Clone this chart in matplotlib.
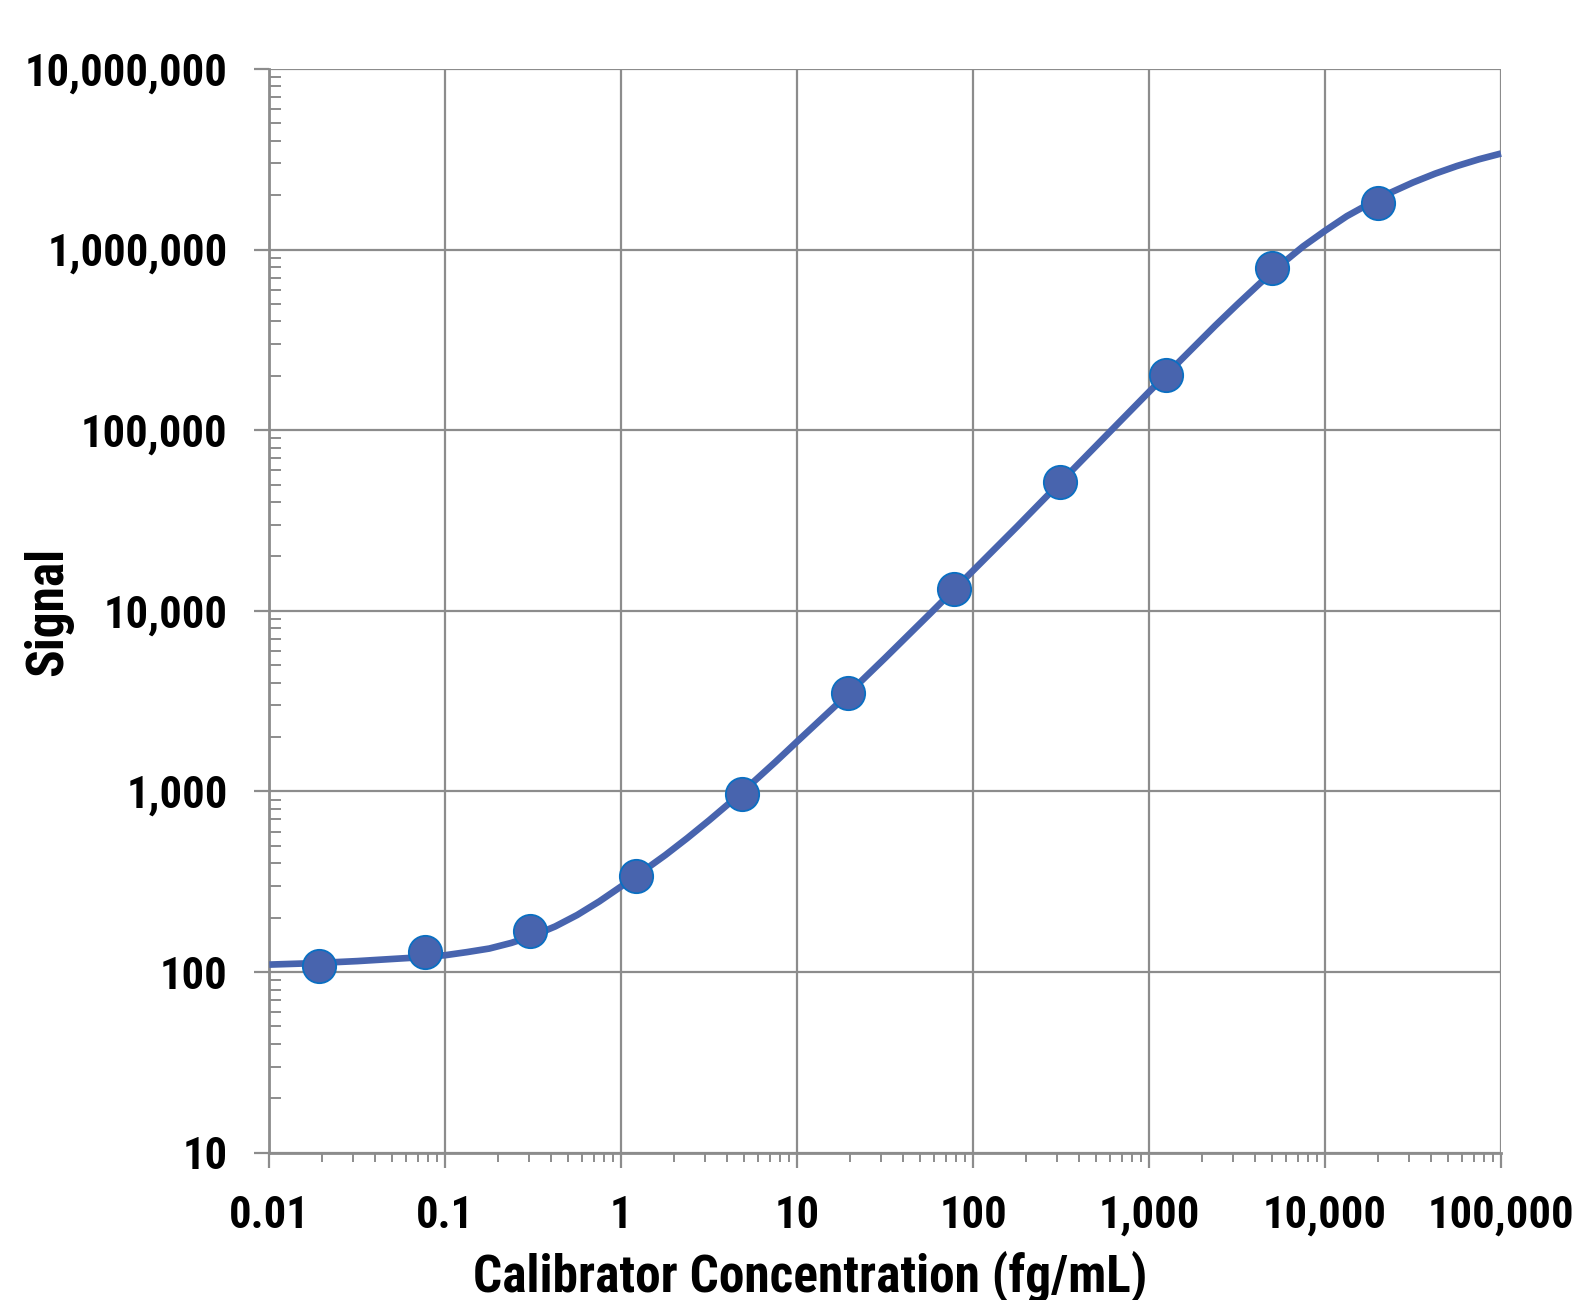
import matplotlib
matplotlib.use('Agg')
import matplotlib.pyplot as plt
from matplotlib.ticker import FixedLocator, LogLocator, NullFormatter

# calibrator points (4-fold dilution series)
conc = [0.0191, 0.0763, 0.305, 1.22, 4.88, 19.5, 78.1, 312.5, 1250, 5000, 20000]
signal = [108, 129, 169, 340, 966, 3515, 13250, 51500, 202000, 790000, 1820000]

# fitted curve (finer steps where it bends)
curve_x = [0.01, 0.0178, 0.0316, 0.0422, 0.0562, 0.075, 0.1, 0.133, 0.178, 0.237,
           0.316, 0.422, 0.562, 0.75, 1, 1.33, 1.78, 2.37, 3.16, 4.22, 5.62, 7.5,
           10, 17.8, 31.6, 56.2, 100, 178, 316, 562, 1000, 1780, 2370, 3160, 4220,
           5620, 7500, 10000, 13300, 17800, 23700, 31600, 42200, 56200, 75000, 100000]
curve_y = [110, 112, 115, 117, 119, 121, 124, 129, 135, 145,
           159, 179, 207, 246, 298, 362, 444, 551, 692, 879, 1125, 1452,
           1890, 3190, 5480, 9530, 16700, 29300, 51900, 92000, 163000, 286000, 378000, 495000, 644000,
           826000, 1040000, 1270000, 1530000, 1790000, 2070000, 2350000, 2630000, 2900000, 3160000, 3400000]

x_ticks = [0.01, 0.1, 1, 10, 100, 1000, 10000, 100000]
x_labels = ['0.01', '0.1', '1', '10', '100', '1,000', '10,000', '100,000']
y_ticks = [10, 100, 1000, 10000, 100000, 1000000, 10000000]
y_labels = ['10', '100', '1,000', '10,000', '100,000', '1,000,000', '10,000,000']

plt.rcParams['font.family'] = ['Roboto Condensed', 'DejaVu Sans']
plt.rcParams['font.weight'] = 'bold'

grey = '#8c8c8c'
blue = '#4864ae'

fig = plt.figure(figsize=(15.75, 13), dpi=100)
ax = fig.add_axes([0.171, 0.1133, 0.782, 0.8337])

ax.set_xscale('log')
ax.set_yscale('log')
ax.set_xlim(0.01, 100000)
ax.set_ylim(10, 10000000)

ax.plot(curve_x, curve_y, color=blue, lw=4.8, solid_capstyle='butt',
        solid_joinstyle='round', zorder=3, clip_on=False)
ax.plot(conc, signal, 'o', ms=24, mfc=blue, mec='#0a6fc2', mew=1.3, zorder=4)

ax.xaxis.set_major_locator(FixedLocator(x_ticks))
ax.set_xticklabels(x_labels)
ax.yaxis.set_major_locator(FixedLocator(y_ticks))
ax.set_yticklabels(y_labels)
ax.xaxis.set_minor_locator(LogLocator(base=10, subs=range(2, 10), numticks=20))
ax.yaxis.set_minor_locator(LogLocator(base=10, subs=range(2, 10), numticks=20))
ax.xaxis.set_minor_formatter(NullFormatter())
ax.yaxis.set_minor_formatter(NullFormatter())

ax.grid(True, which='major', color=grey, lw=1.6, zorder=1)
ax.set_axisbelow(True)

for side in ['top', 'right']:
    ax.spines[side].set_visible(False)
for side in ['left', 'bottom']:
    ax.spines[side].set_color(grey)
    ax.spines[side].set_linewidth(2)

ax.tick_params(axis='both', which='major', length=10.5, width=1.6, color=grey,
               labelsize=32)
ax.tick_params(axis='x', which='major', pad=20)
ax.tick_params(axis='y', which='major', pad=19.5)
ax.tick_params(axis='x', which='minor', length=6.5, width=1.4, color=grey, direction='out')
ax.tick_params(axis='y', which='minor', length=8.6, width=1.4, color=grey, direction='in')

fig.text(0.5147, 0.0069, 'Calibrator Concentration (fg/mL)', ha='center', va='baseline',
         fontsize=37, fontweight='bold')
fig.text(0.0305, 0.530, 'Signal', ha='center', va='center', rotation=90,
         fontsize=37, fontweight='bold')

fig.savefig('out.png', dpi=100)
